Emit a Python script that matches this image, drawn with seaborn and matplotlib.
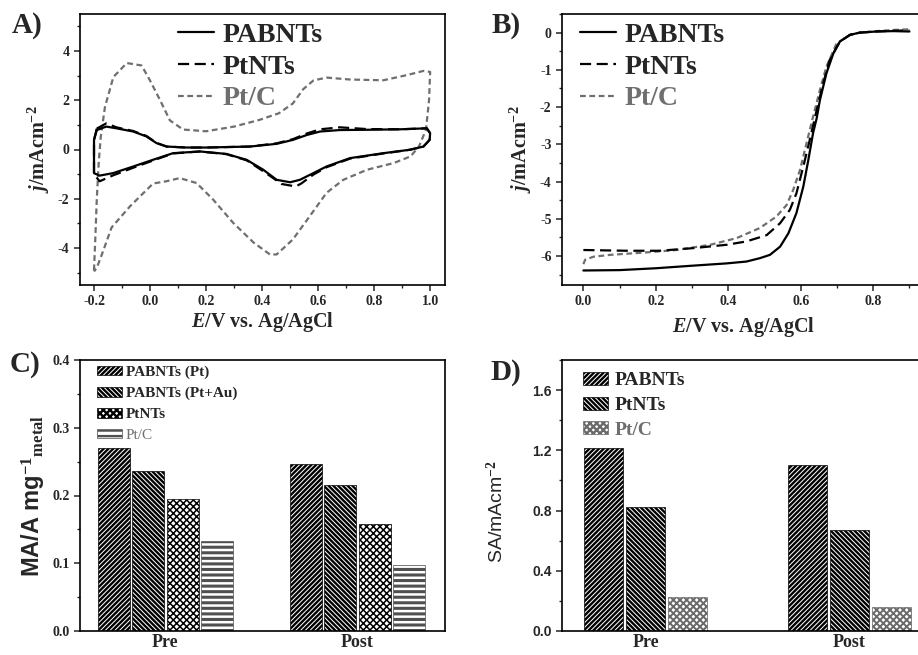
import numpy as np
import pandas as pd
import seaborn as sns
import matplotlib
matplotlib.use('Agg')
import matplotlib.pyplot as plt
from matplotlib.ticker import MultipleLocator

# ---- panel A: cyclic voltammograms (E / V, j / mA cm-2), loop order
cv_pabnts_E = [-0.190, -0.156, -0.120, -0.060, -0.013, 0.023, 0.059, 0.130, 0.200, 0.357, 0.452, 0.510,
               0.560, 0.607, 0.678, 0.774, 0.893, 0.988, 1.000, 0.998, 0.976, 0.928, 0.833, 0.714, 0.630,
               0.583, 0.535, 0.500, 0.452, 0.404, 0.345, 0.273, 0.178, 0.082, 0.010, -0.060, -0.132,
               -0.180, -0.200, -0.200, -0.200, -0.190]
cv_pabnts_j = [0.79, 0.93, 0.86, 0.73, 0.53, 0.26, 0.12, 0.08, 0.08, 0.12, 0.23, 0.39,
               0.59, 0.73, 0.79, 0.80, 0.82, 0.86, 0.66, 0.39, 0.12, -0.01, -0.15, -0.35, -0.69,
               -0.96, -1.23, -1.33, -1.23, -0.82, -0.42, -0.18, -0.08, -0.15, -0.42, -0.69, -0.96,
               -1.06, -0.96, -0.42, 0.39, 0.79]

cv_ptnts_E = [-0.190, -0.156, -0.120, -0.060, -0.013, 0.023, 0.059, 0.130, 0.200, 0.357, 0.452, 0.510,
              0.560, 0.607, 0.678, 0.774, 0.893, 0.988, 1.000, 0.998, 0.976, 0.928, 0.833, 0.714, 0.630,
              0.583, 0.540, 0.520, 0.470, 0.404, 0.345, 0.273, 0.178, 0.082, 0.010, -0.060, -0.132,
              -0.180, -0.200, -0.200, -0.200, -0.190]
cv_ptnts_j = [0.85, 1.06, 0.90, 0.75, 0.55, 0.27, 0.12, 0.08, 0.08, 0.12, 0.25, 0.42,
              0.65, 0.82, 0.90, 0.83, 0.82, 0.86, 0.66, 0.39, 0.12, -0.01, -0.16, -0.37, -0.72,
              -1.02, -1.38, -1.50, -1.40, -0.88, -0.44, -0.19, -0.08, -0.16, -0.45, -0.74, -1.05,
              -1.29, -1.00, -0.42, 0.39, 0.85]

cv_ptc_E = [-0.200, -0.195, -0.190, -0.183, -0.176, -0.161, -0.131, -0.083, -0.030, 0.000, 0.036,
            0.071, 0.118, 0.200, 0.300, 0.390, 0.460, 0.510, 0.547, 0.583, 0.630, 0.714, 0.833,
            0.917, 0.976, 1.000, 0.996, 0.985, 0.960, 0.930, 0.870, 0.775, 0.690, 0.630, 0.570,
            0.510, 0.452, 0.428, 0.370, 0.297, 0.225, 0.166, 0.106, 0.058, 0.011, -0.071, -0.137,
            -0.170, -0.190, -0.200]
cv_ptc_j = [-4.90, -3.50, -2.00, -0.50, 0.50, 1.72, 2.94, 3.51, 3.41, 2.80, 2.00,
            1.18, 0.81, 0.74, 0.93, 1.20, 1.47, 1.87, 2.45, 2.80, 2.92, 2.84, 2.81,
            3.02, 3.19, 3.15, 2.00, 0.80, 0.12, -0.28, -0.55, -0.82, -1.23, -1.76, -2.71,
            -3.65, -4.26, -4.26, -3.78, -2.98, -2.03, -1.36, -1.16, -1.29, -1.38, -2.30, -3.16,
            -4.20, -4.80, -4.95]

# ---- panel B: polarisation curves
lsv_pabnts_E = [0.0, 0.1, 0.2, 0.303, 0.395, 0.45, 0.487, 0.515, 0.543, 0.566, 0.588, 0.607, 0.621,
                0.634, 0.644, 0.653, 0.671, 0.690, 0.708, 0.736, 0.763, 0.809, 0.855, 0.9]
lsv_pabnts_j = [-6.39, -6.38, -6.33, -6.26, -6.20, -6.15, -6.06, -5.97, -5.75, -5.39, -4.85, -4.14, -3.42,
                -2.70, -2.30, -1.81, -1.09, -0.56, -0.24, -0.06, 0.0, 0.03, 0.04, 0.03]
lsv_ptnts_E = [0.0, 0.12, 0.21, 0.303, 0.395, 0.45, 0.506, 0.543, 0.57, 0.588, 0.607, 0.625, 0.644,
               0.662, 0.680, 0.708, 0.736, 0.763, 0.809, 0.855, 0.9]
lsv_ptnts_j = [-5.84, -5.86, -5.86, -5.79, -5.70, -5.61, -5.44, -5.12, -4.76, -4.32, -3.60, -2.88, -2.08,
               -1.36, -0.73, -0.24, -0.06, 0.0, 0.03, 0.05, 0.06]
lsv_ptc_E = [0.0, 0.005, 0.028, 0.074, 0.166, 0.257, 0.35, 0.423, 0.487, 0.533, 0.561, 0.579, 0.598,
             0.616, 0.634, 0.653, 0.671, 0.699, 0.736, 0.763, 0.809, 0.855, 0.9]
lsv_ptc_j = [-6.22, -6.10, -6.02, -5.97, -5.91, -5.84, -5.70, -5.52, -5.25, -4.94, -4.63, -4.23, -3.69,
             -2.97, -2.26, -1.54, -0.91, -0.29, -0.06, 0.0, 0.04, 0.07, 0.09]

# ---- panel C: mass activity
stages = ['Pre', 'Post']
ma_samples = ['PABNTs (Pt)', 'PABNTs (Pt+Au)', 'PtNTs', 'Pt/C']
ma_pre = [0.270, 0.236, 0.195, 0.133]
ma_post = [0.246, 0.215, 0.158, 0.097]

# ---- panel D: specific activity
sa_samples = ['PABNTs', 'PtNTs', 'Pt/C']
sa_pre = [1.213, 0.825, 0.224]
sa_post = [1.102, 0.670, 0.162]

sns.set_style('ticks')
plt.rcParams['font.family'] = ['Liberation Serif', 'DejaVu Serif']
plt.rcParams['font.weight'] = 'bold'
plt.rcParams['axes.unicode_minus'] = False
plt.rcParams['mathtext.fontset'] = 'custom'
plt.rcParams['mathtext.rm'] = 'Liberation Serif:bold'
plt.rcParams['mathtext.it'] = 'Liberation Serif:italic:bold'
plt.rcParams['mathtext.bf'] = 'Liberation Serif:bold'
plt.rcParams['axes.linewidth'] = 1.2
plt.rcParams['xtick.direction'] = 'out'
plt.rcParams['ytick.direction'] = 'out'
plt.rcParams['xtick.major.size'] = 4
plt.rcParams['ytick.major.size'] = 4
plt.rcParams['xtick.minor.size'] = 2.5
plt.rcParams['ytick.minor.size'] = 2.5
plt.rcParams['xtick.major.width'] = 1.1
plt.rcParams['ytick.major.width'] = 1.1
plt.rcParams['xtick.minor.width'] = 1.0
plt.rcParams['ytick.minor.width'] = 1.0
plt.rcParams['hatch.linewidth'] = 1.7

GREY = '#6f6f6f'
W, H = 918, 655
fig = plt.figure(figsize=(W / 100, H / 100), dpi=100)


def px_axes(l, t, r, b):
    return fig.add_axes([l / W, 1 - b / H, (r - l) / W, (b - t) / H])


def style_axes(ax, size=10, family=None):
    for sp in ax.spines.values():
        sp.set_visible(True)
        sp.set_linewidth(1.2)
        sp.set_color('black')
    for lab in ax.get_xticklabels() + ax.get_yticklabels():
        lab.set_fontsize(size)
        lab.set_fontweight('bold')
        if family:
            lab.set_family(family)


def hatch_bars(ax, hatches, edges, widths):
    for cont, hat, ec, hw in zip(ax.containers, hatches, edges, widths):
        for p in cont:
            p.set_facecolor('white')
            p.set_edgecolor(ec)
            p.set_hatch(hat)
            p.set_linewidth(0.5)
            if hasattr(p, 'set_hatch_linewidth'):
                p.set_hatch_linewidth(hw)


# ---------------- A
axA = px_axes(80, 14, 445, 285)
sns.lineplot(x=cv_ptc_E, y=cv_ptc_j, sort=False, estimator=None, color=GREY, linestyle=(0, (2.6, 1.6)),
             lw=1.6, ax=axA, label='Pt/C')
sns.lineplot(x=cv_ptnts_E, y=cv_ptnts_j, sort=False, estimator=None, color='black', linestyle=(0, (5, 2.5)),
             lw=1.6, ax=axA, label='PtNTs')
sns.lineplot(x=cv_pabnts_E, y=cv_pabnts_j, sort=False, estimator=None, color='black', lw=1.6, ax=axA,
             label='PABNTs')
axA.set_xlim(-0.25, 1.053)
axA.set_ylim(-5.5, 5.5)
axA.xaxis.set_minor_locator(MultipleLocator(0.1))
axA.yaxis.set_major_locator(MultipleLocator(2))
axA.yaxis.set_minor_locator(MultipleLocator(1))
axA.set_xticks([-0.2, 0.0, 0.2, 0.4, 0.6, 0.8, 1.0])
axA.set_xticklabels(['-0.2', '0.0', '0.2', '0.4', '0.6', '0.8', '1.0'])
axA.set_xlabel(r'$\mathit{E}$/V vs. Ag/AgCl', fontsize=14.5, fontweight='bold', labelpad=1)
axA.set_ylabel(r'$\mathit{j}$/mAcm$^{\mathbf{-2}}$', fontsize=14.5, fontweight='bold', labelpad=4)
style_axes(axA)
h, l = axA.get_legend_handles_labels()
legA = axA.legend(h[::-1], l[::-1], loc='upper left', bbox_to_anchor=(0.20, 1.06), frameon=False,
                  prop={'size': 20, 'weight': 'bold'}, handlelength=1.3, handletextpad=0.3, labelspacing=0.22)
legA.get_texts()[2].set_color(GREY)

# ---------------- B
axB = px_axes(562, 14, 925, 285)
sns.lineplot(x=lsv_ptc_E, y=lsv_ptc_j, sort=False, estimator=None, color=GREY, linestyle=(0, (2.6, 1.6)),
             lw=1.6, ax=axB, label='Pt/C')
sns.lineplot(x=lsv_ptnts_E, y=lsv_ptnts_j, sort=False, estimator=None, color='black', linestyle=(0, (5, 2.5)),
             lw=1.6, ax=axB, label='PtNTs')
sns.lineplot(x=lsv_pabnts_E, y=lsv_pabnts_j, sort=False, estimator=None, color='black', lw=1.6, ax=axB,
             label='PABNTs')
axB.set_xlim(-0.059, 0.943)
axB.set_ylim(-6.78, 0.5)
axB.xaxis.set_minor_locator(MultipleLocator(0.1))
axB.set_xticks([0.0, 0.2, 0.4, 0.6, 0.8])
axB.set_xticklabels(['0.0', '0.2', '0.4', '0.6', '0.8'])
axB.yaxis.set_major_locator(MultipleLocator(1))
axB.yaxis.set_minor_locator(MultipleLocator(0.5))
axB.set_xlabel(r'$\mathit{E}$/V vs. Ag/AgCl', fontsize=14.5, fontweight='bold', labelpad=5)
axB.set_ylabel(r'$\mathit{j}$/mAcm$^{\mathbf{-2}}$', fontsize=14.5, fontweight='bold', labelpad=4)
style_axes(axB)
h, l = axB.get_legend_handles_labels()
legB = axB.legend(h[::-1], l[::-1], loc='upper left', bbox_to_anchor=(-0.02, 1.06), frameon=False,
                  prop={'size': 20, 'weight': 'bold'}, handlelength=1.3, handletextpad=0.3, labelspacing=0.22)
legB.get_texts()[2].set_color(GREY)

# ---------------- C
dfC = pd.DataFrame({'stage': np.repeat(stages, len(ma_samples)),
                    'sample': ma_samples * 2,
                    'MA': ma_pre + ma_post})
axC = px_axes(80, 360, 445, 631)
sns.barplot(data=dfC, x='stage', y='MA', hue='sample', hue_order=ma_samples, order=stages,
            palette=['white'] * 4, width=0.72, gap=0.07, legend=False, ax=axC)
hatch_bars(axC, ['/' * 7, '\\' * 7, 'xxxxx', '---'], ['black', 'black', 'black', '#505050'],
           [1.7, 1.7, 1.1, 2.2])
axC.set_xlim(-0.445, 1.456)
axC.set_ylim(0, 0.4)
axC.yaxis.set_major_locator(MultipleLocator(0.1))
axC.yaxis.set_minor_locator(MultipleLocator(0.05))
axC.set_xlabel('')
axC.set_ylabel(r'MA/A mg$^{\mathbf{-1}}$$_{\mathbf{metal}}$', fontsize=17, fontweight='bold',
               family='Liberation Sans', labelpad=3)
style_axes(axC)
axC.tick_params(axis='x', length=0, labelsize=13, pad=2)
legC = axC.legend(axC.containers, ma_samples, loc='upper left', bbox_to_anchor=(0.01, 1.03), frameon=False,
                  prop={'size': 11, 'weight': 'bold'}, handlelength=1.6, handleheight=0.6,
                  handletextpad=0.25, labelspacing=0.5)
legC.get_texts()[3].set_color(GREY)
legC.get_texts()[3].set_fontweight('normal')

# ---------------- D
dfD = pd.DataFrame({'stage': np.repeat(stages, len(sa_samples)),
                    'sample': sa_samples * 2,
                    'SA': sa_pre + sa_post})
axD = px_axes(562, 360, 925, 631)
sns.barplot(data=dfD, x='stage', y='SA', hue='sample', hue_order=sa_samples, order=stages,
            palette=['white'] * 3, width=0.62, gap=0.08, legend=False, ax=axD)
hatch_bars(axD, ['/' * 7, '\\' * 7, 'xxxxx'], ['black', 'black', '#6a6a6a'], [1.7, 1.7, 1.4])
axD.set_xlim(-0.41, 1.37)
axD.set_ylim(0, 1.8)
axD.yaxis.set_major_locator(MultipleLocator(0.4))
axD.yaxis.set_minor_locator(MultipleLocator(0.2))
axD.set_xlabel('')
axD.set_ylabel(r'SA/mAcm$^{-2}$', fontsize=14, fontweight='normal', family='Liberation Sans', labelpad=4)
axD.yaxis.set_label_coords(-0.15, 0.44)
style_axes(axD, size=10, family='Liberation Sans')
for lab in axD.get_xticklabels():
    lab.set_family('Liberation Serif')
axD.tick_params(axis='x', length=0, labelsize=13, pad=2)
legD = axD.legend(axD.containers, sa_samples, loc='upper left', bbox_to_anchor=(0.01, 1.02), frameon=False,
                  prop={'size': 14, 'weight': 'bold'}, handlelength=1.3, handleheight=0.65,
                  handletextpad=0.3, labelspacing=0.38)
legD.get_texts()[2].set_color(GREY)

# panel letters
for txt, x, y in [('A)', 12, 33), ('B)', 492, 33), ('C)', 10, 372), ('D)', 490, 380)]:
    fig.text(x / W, 1 - y / H, txt, fontsize=21, fontweight='bold', va='baseline', ha='left')

fig.savefig('out.png', dpi=100)
